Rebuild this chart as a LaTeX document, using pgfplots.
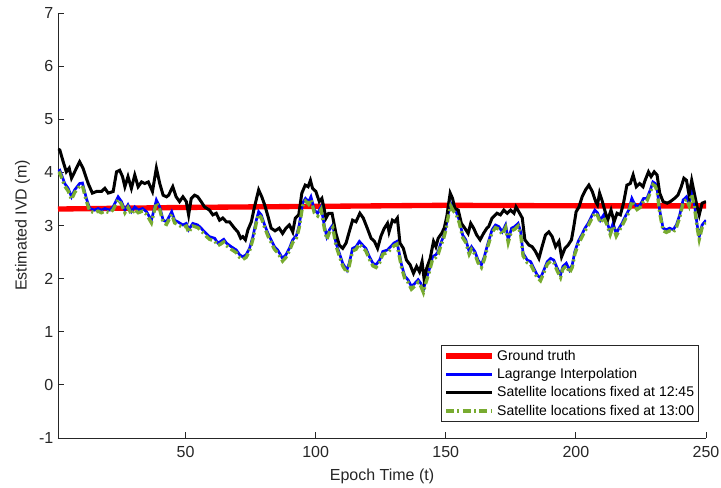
\documentclass[border=0pt]{standalone}
\usepackage{pgfplots}
\pgfplotsset{compat=1.18}
\usepackage{fontspec}
\setmainfont{Liberation Sans}
\definecolor{axgray}{RGB}{38,38,38}
\definecolor{mgreen}{rgb}{0.47,0.67,0.19}
\begin{document}
\begin{tikzpicture}
\begin{axis}[name=ax,
  scale only axis, width=486pt, height=318.75pt,
  xmin=1, xmax=250, ymin=-1, ymax=7,
  axis lines=left, axis line style={-, axgray, line width=0.6pt},
  xtick={50,100,150,200,250}, ytick={-1,0,...,7},
  tick align=inside, major tick length=4.5pt,
  tick style={axgray, line width=0.6pt},
  ticklabel style={font=\fontsize{12}{14}\selectfont, text=axgray},
  xticklabel style={yshift=-3pt},
  /pgf/number format/assume math mode=true,
  xlabel={Epoch Time (t)}, ylabel={Estimated IVD (m)},
  label style={font=\fontsize{12}{14}\selectfont, text=axgray},
  xlabel style={yshift=-1pt}, ylabel style={yshift=0pt},
  legend style={at={(0.989,0.038)}, anchor=south east, draw=axgray, line width=0.6pt,
    font=\fontsize{10.5}{12}\selectfont, inner sep=1.5pt, row sep=1pt,
    nodes={inner sep=1.8pt}},
  legend cell align=left,
  legend image code/.code={\draw[#1] (0pt,0pt) -- (34.5pt,0pt);},
]
\addplot[red, line width=4pt] coordinates {(1,3.31) (50,3.34) (100,3.36) (150,3.38) (200,3.37) (250,3.37)};
\addlegendentry{Ground truth}
\addplot[blue, line width=2pt] coordinates {
(1,4.02) (1.7,4.04) (3.6,3.79) (4.9,3.70) (6.2,3.54) (7.4,3.67) (9.3,3.79) (10.4,3.80) (11.9,3.51) (13.2,3.32) (15.1,3.29) (16.4,3.32) (17.7,3.29) (19,3.32) (20.9,3.29) (22.2,3.35) (24.1,3.54) (25.4,3.45) (26.7,3.29) (27.9,3.39) (29.2,3.26) (30.5,3.35) (31.8,3.29) (33.5,3.32) (35,3.26) (36.9,3.10) (38.8,3.48) (40.1,3.35) (41.4,3.10) (42.7,3.07) (44.7,3.26) (45.8,3.10) (47,3.07) (49,3.01) (50.3,3.04) (51.2,2.92) (52.8,3.04) (54.7,3.01) (56,2.95) (57.3,2.88) (59.2,2.79) (61.2,2.76) (62.4,2.67) (63.5,2.70) (64.7,2.74) (65.7,2.67) (67.6,2.60) (69.5,2.54) (70.8,2.45) (72,2.41) (73.3,2.45) (74.6,2.57) (75.9,2.79) (77.2,3.10) (78.1,3.26) (79.1,3.20) (80.4,3.01) (81.7,2.85) (82.9,2.73) (84.2,2.60) (85.4,2.54) (87.3,2.38) (88.6,2.45) (89.9,2.57) (91.2,2.73) (92.7,2.82) (93.7,3.01) (95,3.42) (96.1,3.51) (97.3,3.45) (98.2,3.54) (99.5,3.29) (100.8,3.23) (102.1,3.35) (103.4,2.98) (104.3,2.79) (105.3,2.92) (106.6,3.01) (107.8,2.67) (109.1,2.48) (110.4,2.29) (112,2.16) (112.9,2.29) (114.2,2.57) (115.5,2.60) (116.8,2.70) (118.1,2.63) (119.3,2.57) (120.7,2.41) (122,2.29) (123.2,2.26) (124.6,2.35) (125.8,2.51) (127.6,2.54) (128.8,2.60) (130.1,2.67) (131.2,2.70) (132,2.51) (133,2.26) (134.3,2.04) (135.5,1.98) (136.8,1.85) (138.1,1.91) (139.4,1.98) (140.4,1.91) (141.4,1.79) (142.4,1.98) (143.6,2.16) (144.9,2.41) (146.2,2.45) (147.1,2.51) (148.1,2.67) (149.1,2.79) (150.1,2.98) (151.2,3.29) (151.9,3.42) (153,3.32) (154,3.26) (155.2,3.10) (156.5,2.82) (157.7,2.73) (159,2.51) (159.9,2.60) (161.2,2.51) (162.4,2.35) (163.7,2.26) (164.8,2.41) (166,2.63) (167.8,2.92) (169.1,3.01) (170.4,2.98) (171.7,2.88) (173,3.01) (174,2.73) (175.3,2.95) (176.5,2.98) (177.8,3.04) (178.8,2.88) (179.7,2.48) (181.3,2.35) (182.6,2.32) (183.8,2.20) (185.1,2.07) (186.4,2.01) (187.7,2.16) (189,2.32) (190.3,2.38) (191.5,2.35) (192.8,2.20) (194.1,2.07) (195,2.23) (196.3,2.29) (197.6,2.16) (198.6,2.26) (199.6,2.51) (200.9,2.70) (202.2,2.82) (203.5,2.95) (204.7,3.04) (206,3.17) (207.3,3.29) (208.3,3.24) (209.4,3.10) (210.7,3.20) (211.9,3.07) (213.2,2.88) (214.3,3.04) (215.5,2.85) (216.6,2.95) (217.7,3.04) (219,3.17) (220.3,3.29) (221.5,3.51) (222.4,3.42) (223.5,3.35) (224.7,3.39) (226,3.51) (227.3,3.51) (228.6,3.67) (229.6,3.82) (230.5,3.79) (231.2,3.70) (232.2,3.29) (233.5,2.95) (234.8,2.92) (236,2.95) (237.4,2.92) (238.6,3.01) (239.9,3.20) (241.2,3.48) (242.5,3.54) (243.5,3.42) (244.5,3.64) (245.5,3.42) (246.6,3.01) (247.4,2.79) (248.5,3.01) (250,3.10)};
\addlegendentry{Lagrange Interpolation}
\addplot[black, line width=2.25pt] coordinates {
(1,4.44) (1.7,4.42) (3,4.20) (4.2,4.01) (5.3,4.08) (6.2,3.89) (7.4,4.01) (9.3,4.20) (10.6,4.08) (12.6,3.79) (14.2,3.61) (15.8,3.64) (17.7,3.64) (19,3.70) (20.3,3.61) (22.2,3.64) (23.5,4.01) (24.7,4.04) (25.8,3.92) (26.7,3.73) (27.9,3.92) (29.2,3.70) (30.5,3.95) (31.8,3.73) (33.1,3.82) (34.3,3.79) (35.7,3.82) (37.3,3.64) (38.8,4.08) (40.1,3.79) (41.4,3.57) (42.7,3.54) (43.5,3.57) (45.1,3.73) (46.4,3.54) (47.7,3.45) (49,3.54) (50.3,3.45) (51.2,3.20) (52.2,3.51) (53.5,3.57) (54.7,3.54) (56,3.45) (57.3,3.35) (59.2,3.29) (60.5,3.20) (61.8,3.23) (63.1,3.10) (64.3,3.14) (65.7,3.07) (66.9,3.07) (68.8,2.95) (70.1,2.88) (71.2,2.76) (72,2.79) (73,2.73) (74,2.92) (75.3,3.07) (76.5,3.35) (78.1,3.67) (79.3,3.54) (80.4,3.39) (81.7,3.17) (82.9,2.95) (84.4,2.90) (86,2.95) (87.3,2.85) (88.6,2.95) (89.9,3.01) (91.2,2.88) (92.2,3.14) (93.5,3.20) (94.7,3.61) (96,3.76) (97.1,3.73) (98,3.85) (98.8,3.70) (100.1,3.64) (101.4,3.45) (102.4,3.51) (104,3.14) (105,3.23) (106.3,3.23) (107.8,2.85) (109.1,2.63) (110.4,2.57) (111.7,2.67) (112.9,2.88) (114.2,3.10) (115.5,3.07) (117,3.23) (118.3,3.14) (119.6,2.98) (121.3,2.76) (122.6,2.70) (123.8,2.57) (125.1,2.80) (126.3,2.94) (127.6,3.04) (128.2,2.88) (129.5,3.10) (130.4,3.07) (131.4,3.14) (132.4,2.67) (133.7,2.57) (134.9,2.35) (136.3,2.26) (137.6,2.10) (138.8,2.23) (139.9,2.13) (140.9,2.32) (141.7,1.98) (142.7,2.20) (144,2.38) (145.3,2.70) (146.2,2.60) (147.1,2.76) (148.4,2.85) (149.4,2.95) (150.4,3.17) (151.7,3.61) (152.6,3.51) (153.5,3.32) (154.8,3.29) (156,3.04) (157.3,2.95) (158.6,2.85) (159.6,3.04) (160.7,2.95) (161.9,2.82) (163.2,2.73) (164.5,2.85) (165.8,2.95) (166.5,2.98) (167.8,3.14) (169.7,3.23) (171,3.20) (172.3,3.29) (173.6,3.23) (174.9,3.29) (176.2,3.23) (177,3.35) (178.4,3.23) (179.4,3.14) (180.4,2.73) (182,2.63) (183.2,2.60) (184.5,2.51) (185.8,2.38) (187,2.60) (188.3,2.82) (189.6,2.88) (190.9,2.79) (192.2,2.60) (193.5,2.70) (194.5,2.41) (195.8,2.57) (197,2.63) (198.3,2.73) (199.2,2.98) (200.1,3.26) (201.2,3.35) (202.4,3.54) (203.7,3.67) (205,3.76) (206.3,3.64) (207.6,3.45) (208.3,3.39) (209.1,3.61) (210,3.48) (210.9,3.32) (212.2,3.10) (213.5,3.29) (214.7,3.07) (215.8,3.23) (217.1,3.20) (218.3,3.42) (219.6,3.76) (220.9,3.79) (222,3.95) (223.2,3.73) (224.5,3.79) (225.8,3.73) (226.6,3.85) (227.9,4.01) (228.9,3.92) (230.1,4.01) (231.2,3.95) (232.2,3.61) (233.5,3.45) (235.1,3.42) (236.3,3.45) (237.9,3.51) (239.2,3.57) (240.5,3.73) (241.5,3.89) (242.5,3.85) (243.5,3.57) (244.5,3.85) (245.5,3.61) (246.6,3.35) (247.4,3.20) (248.5,3.42) (250,3.45)};
\addlegendentry{Satellite locations fixed at 12:45}
\addplot[mgreen, line width=2.5pt, dash pattern=on 6pt off 2.5pt on 1.5pt off 2.5pt] coordinates {
(1,3.97) (1.7,3.99) (3.6,3.74) (4.9,3.65) (6.2,3.49) (7.4,3.62) (9.3,3.74) (10.4,3.75) (11.9,3.46) (13.2,3.27) (15.1,3.24) (16.4,3.27) (17.7,3.24) (19,3.27) (20.9,3.24) (22.2,3.30) (24.1,3.49) (25.4,3.40) (26.7,3.24) (27.9,3.34) (29.2,3.21) (30.5,3.30) (31.8,3.24) (33.5,3.27) (35,3.21) (36.9,3.05) (38.8,3.43) (40.1,3.30) (41.4,3.05) (42.7,3.02) (44.7,3.21) (45.8,3.05) (47,3.02) (49,2.96) (50.3,2.99) (51.2,2.87) (52.8,2.99) (54.7,2.96) (56,2.90) (57.3,2.83) (59.2,2.74) (61.2,2.71) (62.4,2.62) (63.5,2.65) (64.7,2.69) (65.7,2.62) (67.6,2.55) (69.5,2.49) (70.8,2.40) (72,2.36) (73.3,2.40) (74.6,2.52) (75.9,2.74) (77.2,3.05) (78.1,3.21) (79.1,3.15) (80.4,2.96) (81.7,2.80) (82.9,2.68) (84.2,2.55) (85.4,2.49) (87.3,2.33) (88.6,2.40) (89.9,2.52) (91.2,2.68) (92.7,2.77) (93.7,2.96) (95,3.37) (96.1,3.46) (97.3,3.40) (98.2,3.49) (99.5,3.24) (100.8,3.18) (102.1,3.30) (103.4,2.93) (104.3,2.74) (105.3,2.87) (106.6,2.96) (107.8,2.62) (109.1,2.43) (110.4,2.24) (112,2.11) (112.9,2.24) (114.2,2.52) (115.5,2.55) (116.8,2.65) (118.1,2.58) (119.3,2.52) (120.7,2.36) (122,2.24) (123.2,2.21) (124.6,2.30) (125.8,2.46) (127.6,2.49) (128.8,2.55) (130.1,2.62) (131.2,2.65) (132,2.46) (133,2.21) (134.3,1.99) (135.5,1.93) (136.8,1.80) (138.1,1.86) (139.4,1.93) (140.4,1.86) (141.4,1.74) (142.4,1.93) (143.6,2.11) (144.9,2.36) (146.2,2.40) (147.1,2.46) (148.1,2.62) (149.1,2.74) (150.1,2.93) (151.2,3.24) (151.9,3.37) (153,3.27) (154,3.21) (155.2,3.05) (156.5,2.77) (157.7,2.68) (159,2.46) (159.9,2.55) (161.2,2.46) (162.4,2.30) (163.7,2.21) (164.8,2.36) (166,2.58) (167.8,2.87) (169.1,2.96) (170.4,2.93) (171.7,2.83) (173,2.96) (174,2.68) (175.3,2.90) (176.5,2.93) (177.8,2.99) (178.8,2.83) (179.7,2.43) (181.3,2.30) (182.6,2.27) (183.8,2.15) (185.1,2.02) (186.4,1.96) (187.7,2.11) (189,2.27) (190.3,2.33) (191.5,2.30) (192.8,2.15) (194.1,2.02) (195,2.18) (196.3,2.24) (197.6,2.11) (198.6,2.21) (199.6,2.46) (200.9,2.65) (202.2,2.77) (203.5,2.90) (204.7,2.99) (206,3.12) (207.3,3.24) (208.3,3.19) (209.4,3.05) (210.7,3.15) (211.9,3.02) (213.2,2.83) (214.3,2.99) (215.5,2.80) (216.6,2.90) (217.7,2.99) (219,3.12) (220.3,3.24) (221.5,3.46) (222.4,3.37) (223.5,3.30) (224.7,3.34) (226,3.46) (227.3,3.46) (228.6,3.62) (229.6,3.77) (230.5,3.74) (231.2,3.65) (232.2,3.24) (233.5,2.90) (234.8,2.87) (236,2.90) (237.4,2.87) (238.6,2.96) (239.9,3.15) (241.2,3.43) (242.5,3.49) (243.5,3.37) (244.5,3.59) (245.5,3.37) (246.6,2.96) (247.4,2.74) (248.5,2.96) (250,3.05)};
\addlegendentry{Satellite locations fixed at 13:00}
\end{axis}
\pgfresetboundingbox
\path ([xshift=-43.5pt,yshift=-37.5pt]ax.south west) rectangle ([xshift=11.25pt,yshift=9.75pt]ax.north east);
\end{tikzpicture}
\end{document}
